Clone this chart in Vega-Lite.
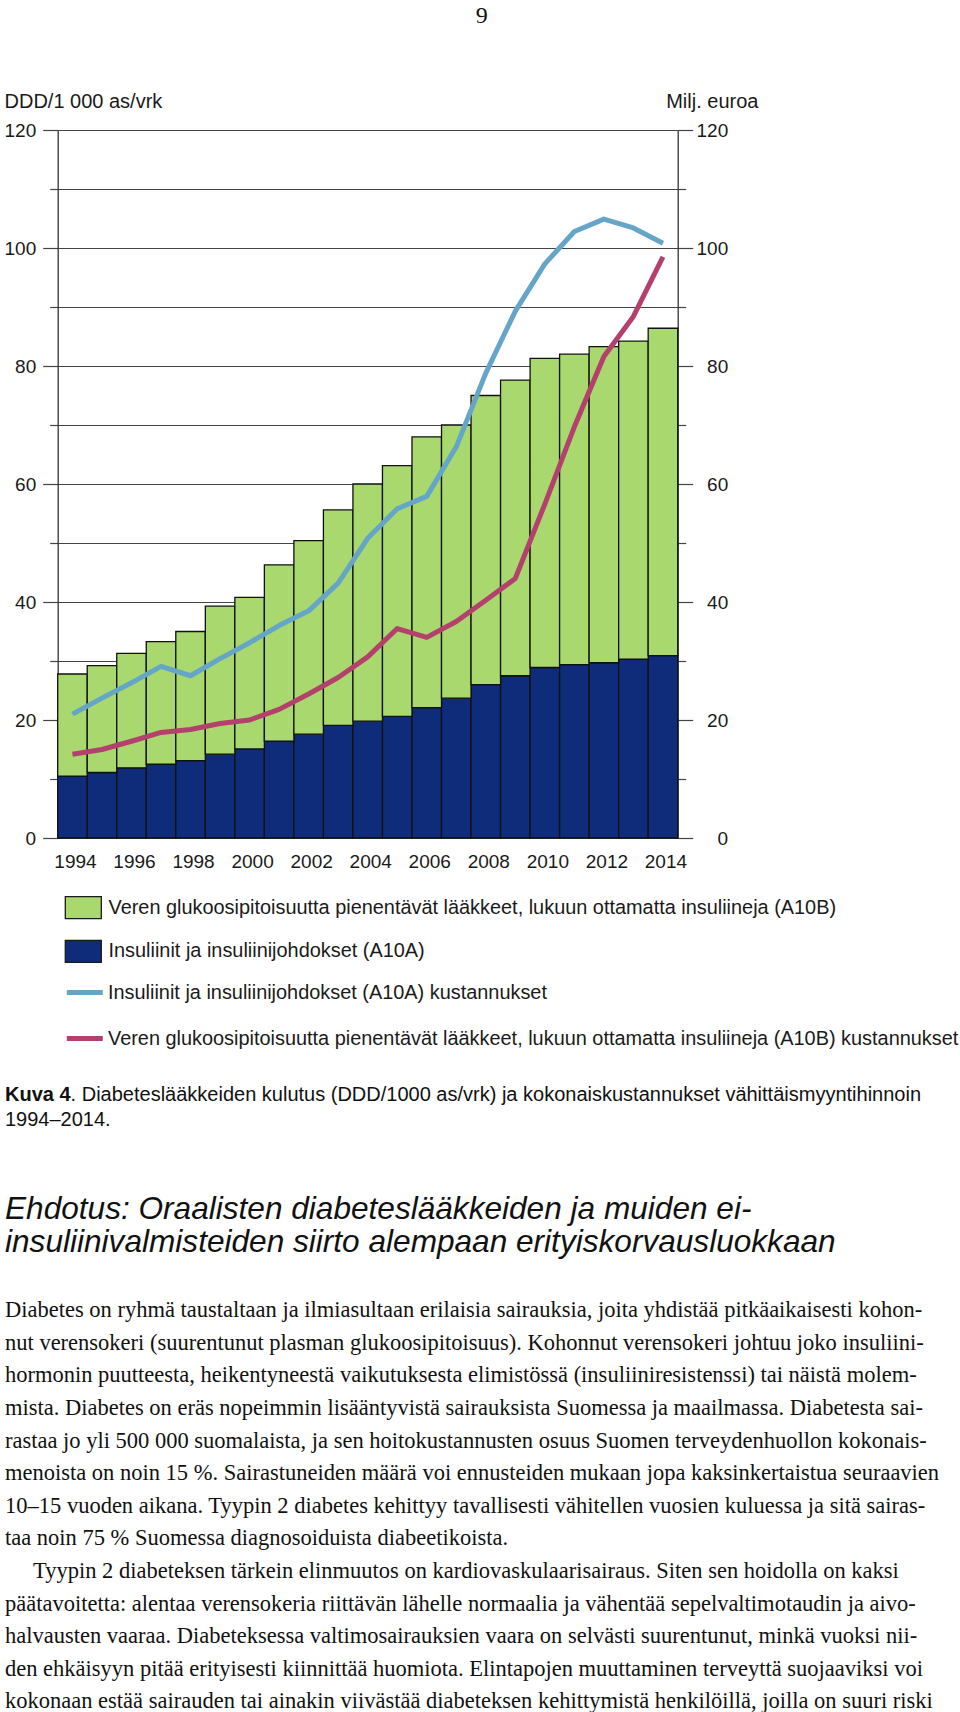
{
  "$schema": "https://vega.github.io/schema/vega-lite/v6.json",
  "autosize": "none",
  "width": 620,
  "height": 708,
  "padding": {"left": 57.7, "top": 130, "right": 282.3, "bottom": 874},
  "background": "white",
  "config": {"view": {"stroke": null}, "font": "Liberation Sans"},
  "datasets": {
    "sarjat": [
      {"sarja": "A10B", "nimi": "Veren glukoosipitoisuutta pienentävät lääkkeet, lukuun ottamatta insuliineja (A10B)"},
      {"sarja": "A10A", "nimi": "Insuliinit ja insuliinijohdokset (A10A)"},
      {"sarja": "A10A_kust", "nimi": "Insuliinit ja insuliinijohdokset (A10A) kustannukset"},
      {"sarja": "A10B_kust", "nimi": "Veren glukoosipitoisuutta pienentävät lääkkeet, lukuun ottamatta insuliineja (A10B) kustannukset"}
    ],
    "kulutus": [
      {"vuosi": 1994, "sarja": "A10A", "arvo": 10.5}, {"vuosi": 1995, "sarja": "A10A", "arvo": 11.1}, {"vuosi": 1996, "sarja": "A10A", "arvo": 11.9},
      {"vuosi": 1997, "sarja": "A10A", "arvo": 12.5}, {"vuosi": 1998, "sarja": "A10A", "arvo": 13.1}, {"vuosi": 1999, "sarja": "A10A", "arvo": 14.2},
      {"vuosi": 2000, "sarja": "A10A", "arvo": 15.1}, {"vuosi": 2001, "sarja": "A10A", "arvo": 16.4}, {"vuosi": 2002, "sarja": "A10A", "arvo": 17.6},
      {"vuosi": 2003, "sarja": "A10A", "arvo": 19.1}, {"vuosi": 2004, "sarja": "A10A", "arvo": 19.8}, {"vuosi": 2005, "sarja": "A10A", "arvo": 20.6},
      {"vuosi": 2006, "sarja": "A10A", "arvo": 22.1}, {"vuosi": 2007, "sarja": "A10A", "arvo": 23.7}, {"vuosi": 2008, "sarja": "A10A", "arvo": 26.0},
      {"vuosi": 2009, "sarja": "A10A", "arvo": 27.5}, {"vuosi": 2010, "sarja": "A10A", "arvo": 28.9}, {"vuosi": 2011, "sarja": "A10A", "arvo": 29.4},
      {"vuosi": 2012, "sarja": "A10A", "arvo": 29.7}, {"vuosi": 2013, "sarja": "A10A", "arvo": 30.3}, {"vuosi": 2014, "sarja": "A10A", "arvo": 30.9},
      {"vuosi": 1994, "sarja": "A10B", "arvo": 17.3}, {"vuosi": 1995, "sarja": "A10B", "arvo": 18.1}, {"vuosi": 1996, "sarja": "A10B", "arvo": 19.4},
      {"vuosi": 1997, "sarja": "A10B", "arvo": 20.8}, {"vuosi": 1998, "sarja": "A10B", "arvo": 21.9}, {"vuosi": 1999, "sarja": "A10B", "arvo": 25.1},
      {"vuosi": 2000, "sarja": "A10B", "arvo": 25.7}, {"vuosi": 2001, "sarja": "A10B", "arvo": 29.9}, {"vuosi": 2002, "sarja": "A10B", "arvo": 32.8},
      {"vuosi": 2003, "sarja": "A10B", "arvo": 36.5}, {"vuosi": 2004, "sarja": "A10B", "arvo": 40.2}, {"vuosi": 2005, "sarja": "A10B", "arvo": 42.5},
      {"vuosi": 2006, "sarja": "A10B", "arvo": 45.9}, {"vuosi": 2007, "sarja": "A10B", "arvo": 46.3}, {"vuosi": 2008, "sarja": "A10B", "arvo": 49.0},
      {"vuosi": 2009, "sarja": "A10B", "arvo": 50.1}, {"vuosi": 2010, "sarja": "A10B", "arvo": 52.4}, {"vuosi": 2011, "sarja": "A10B", "arvo": 52.6},
      {"vuosi": 2012, "sarja": "A10B", "arvo": 53.6}, {"vuosi": 2013, "sarja": "A10B", "arvo": 53.9}, {"vuosi": 2014, "sarja": "A10B", "arvo": 55.5},
      {"vuosi": 1994, "sarja": "A10A_kust", "arvo": 21.0}, {"vuosi": 1995, "sarja": "A10A_kust", "arvo": 23.7}, {"vuosi": 1996, "sarja": "A10A_kust", "arvo": 26.3},
      {"vuosi": 1997, "sarja": "A10A_kust", "arvo": 29.1}, {"vuosi": 1998, "sarja": "A10A_kust", "arvo": 27.5}, {"vuosi": 1999, "sarja": "A10A_kust", "arvo": 30.4},
      {"vuosi": 2000, "sarja": "A10A_kust", "arvo": 33.1}, {"vuosi": 2001, "sarja": "A10A_kust", "arvo": 36.0}, {"vuosi": 2002, "sarja": "A10A_kust", "arvo": 38.5},
      {"vuosi": 2003, "sarja": "A10A_kust", "arvo": 43.2}, {"vuosi": 2004, "sarja": "A10A_kust", "arvo": 50.8}, {"vuosi": 2005, "sarja": "A10A_kust", "arvo": 55.8},
      {"vuosi": 2006, "sarja": "A10A_kust", "arvo": 57.9}, {"vuosi": 2007, "sarja": "A10A_kust", "arvo": 66.3}, {"vuosi": 2008, "sarja": "A10A_kust", "arvo": 78.8},
      {"vuosi": 2009, "sarja": "A10A_kust", "arvo": 89.3}, {"vuosi": 2010, "sarja": "A10A_kust", "arvo": 97.3}, {"vuosi": 2011, "sarja": "A10A_kust", "arvo": 102.8},
      {"vuosi": 2012, "sarja": "A10A_kust", "arvo": 104.9}, {"vuosi": 2013, "sarja": "A10A_kust", "arvo": 103.4}, {"vuosi": 2014, "sarja": "A10A_kust", "arvo": 100.8},
      {"vuosi": 1994, "sarja": "A10B_kust", "arvo": 14.2}, {"vuosi": 1995, "sarja": "A10B_kust", "arvo": 15.0}, {"vuosi": 1996, "sarja": "A10B_kust", "arvo": 16.4},
      {"vuosi": 1997, "sarja": "A10B_kust", "arvo": 17.9}, {"vuosi": 1998, "sarja": "A10B_kust", "arvo": 18.4}, {"vuosi": 1999, "sarja": "A10B_kust", "arvo": 19.4},
      {"vuosi": 2000, "sarja": "A10B_kust", "arvo": 20.0}, {"vuosi": 2001, "sarja": "A10B_kust", "arvo": 21.8}, {"vuosi": 2002, "sarja": "A10B_kust", "arvo": 24.4},
      {"vuosi": 2003, "sarja": "A10B_kust", "arvo": 27.2}, {"vuosi": 2004, "sarja": "A10B_kust", "arvo": 30.7}, {"vuosi": 2005, "sarja": "A10B_kust", "arvo": 35.5},
      {"vuosi": 2006, "sarja": "A10B_kust", "arvo": 34.0}, {"vuosi": 2007, "sarja": "A10B_kust", "arvo": 36.7}, {"vuosi": 2008, "sarja": "A10B_kust", "arvo": 40.3},
      {"vuosi": 2009, "sarja": "A10B_kust", "arvo": 44.0}, {"vuosi": 2010, "sarja": "A10B_kust", "arvo": 56.6}, {"vuosi": 2011, "sarja": "A10B_kust", "arvo": 69.7},
      {"vuosi": 2012, "sarja": "A10B_kust", "arvo": 81.6}, {"vuosi": 2013, "sarja": "A10B_kust", "arvo": 88.4}, {"vuosi": 2014, "sarja": "A10B_kust", "arvo": 98.5}
    ],
    "tekstit": [
      {"osa": "sivu", "teksti": "9"},
      {"osa": "kuva", "teksti": "Kuva 4"},
      {"osa": "kuvateksti1", "teksti": ". Diabeteslääkkeiden kulutus (DDD/1000 as/vrk) ja kokonaiskustannukset vähittäismyyntihinnoin"},
      {"osa": "kuvateksti2", "teksti": "1994–2014."},
      {"osa": "otsikko", "teksti": ["Ehdotus: Oraalisten diabeteslääkkeiden ja muiden ei-", "insuliinivalmisteiden siirto alempaan erityiskorvausluokkaan"]},
      {"osa": "kappale1", "teksti": [
        "Diabetes on ryhmä taustaltaan ja ilmiasultaan erilaisia sairauksia, joita yhdistää pitkäaikaisesti kohon-",
        "nut verensokeri (suurentunut plasman glukoosipitoisuus). Kohonnut verensokeri johtuu joko insuliini-",
        "hormonin puutteesta, heikentyneestä vaikutuksesta elimistössä (insuliiniresistenssi) tai näistä molem-",
        "mista. Diabetes on eräs nopeimmin lisääntyvistä sairauksista Suomessa ja maailmassa. Diabetesta sai-",
        "rastaa jo yli 500 000 suomalaista, ja sen hoitokustannusten osuus Suomen terveydenhuollon kokonais-",
        "menoista on noin 15 %. Sairastuneiden määrä voi ennusteiden mukaan jopa kaksinkertaistua seuraavien",
        "10–15 vuoden aikana. Tyypin 2 diabetes kehittyy tavallisesti vähitellen vuosien kuluessa ja sitä sairas-",
        "taa noin 75 % Suomessa diagnosoiduista diabeetikoista."
      ]},
      {"osa": "kappale2a", "teksti": "Tyypin 2 diabeteksen tärkein elinmuutos on kardiovaskulaarisairaus. Siten sen hoidolla on kaksi"},
      {"osa": "kappale2b", "teksti": [
        "päätavoitetta: alentaa verensokeria riittävän lähelle normaalia ja vähentää sepelvaltimotaudin ja aivo-",
        "halvausten vaaraa. Diabeteksessa valtimosairauksien vaara on selvästi suurentunut, minkä vuoksi nii-",
        "den ehkäisyyn pitää erityisesti kiinnittää huomiota. Elintapojen muuttaminen terveyttä suojaaviksi voi",
        "kokonaan estää sairauden tai ainakin viivästää diabeteksen kehittymistä henkilöillä, joilla on suuri riski"
      ]}
    ]
  },
  "layer": [
    {
      "data": {"name": "kulutus"},
      "transform": [
        {"filter": "datum.sarja == 'A10A' || datum.sarja == 'A10B'"},
        {"lookup": "sarja", "from": {"data": {"name": "sarjat"}, "key": "sarja", "fields": ["nimi"]}}
      ],
      "mark": {"type": "bar", "stroke": "#111111", "strokeWidth": 1.3},
      "encoding": {
        "x": {
          "field": "vuosi", "type": "ordinal",
          "scale": {"paddingInner": 0, "paddingOuter": 0},
          "axis": {
            "orient": "bottom", "title": null, "values": [1994, 1996, 1998, 2000, 2002, 2004, 2006, 2008, 2010, 2012, 2014],
            "domain": false, "ticks": false, "grid": false, "labelAngle": 0,
            "labelFont": "Liberation Sans", "labelFontSize": 19, "labelColor": "#1a1a1a", "labelPadding": 14, "labelOffset": 3
          }
        },
        "y": {
          "field": "arvo", "type": "quantitative", "stack": "zero",
          "scale": {"domain": [0, 120], "nice": false},
          "axis": {
            "orient": "left", "values": [0, 10, 20, 30, 40, 50, 60, 70, 80, 90, 100, 110, 120],
            "labelExpr": "datum.value % 20 == 0 ? datum.label : ''",
            "grid": true, "gridColor": "#444444", "gridWidth": 1.2,
            "domain": true, "domainColor": "#333333", "domainWidth": 1.3,
            "ticks": true, "tickColor": "#444444", "tickWidth": 1.2,
            "tickSize": {"condition": {"test": "datum.value % 20 != 0", "value": 8}, "value": 15},
            "labelFont": "Liberation Sans", "labelFontSize": 19, "labelColor": "#1a1a1a", "labelPadding": 7,
            "title": "DDD/1 000 as/vrk", "titleAngle": 0, "titleAlign": "left", "titleBaseline": "middle",
            "titleX": -53.7, "titleY": -28.3, "titleFont": "Liberation Sans", "titleFontSize": 20, "titleFontWeight": "normal", "titleColor": "#1a1a1a",
            "zindex": 0
          }
        },
        "fill": {
          "field": "nimi", "type": "nominal",
          "scale": {
            "domain": [
              "Veren glukoosipitoisuutta pienentävät lääkkeet, lukuun ottamatta insuliineja (A10B)",
              "Insuliinit ja insuliinijohdokset (A10A)"
            ],
            "range": ["#A8D86E", "#0E2C7A"]
          },
          "legend": {
            "orient": "none", "legendX": 6.6, "legendY": 758.6, "direction": "vertical",
            "title": null, "padding": 0, "symbolSize": 1296, "symbolType": "M-1,-0.61H1V0.61H-1Z",
            "symbolStrokeColor": "#1a1a1a", "symbolStrokeWidth": 1.3,
            "labelFont": "Liberation Sans", "labelFontSize": 19.9, "labelColor": "#1a1a1a", "labelLimit": 0, "labelOffset": 6.2, "rowPadding": 10.7,
            "encode": {"symbols": {"update": {"stroke": {"value": "#1a1a1a"}, "strokeWidth": {"value": 1.3}, "opacity": {"value": 1}, "fillOpacity": {"value": 1}}}}
          }
        },
        "order": {"field": "sarja", "sort": "ascending"}
      }
    },
    {
      "data": {"name": "kulutus"},
      "transform": [
        {"filter": "datum.sarja == 'A10A_kust' || datum.sarja == 'A10B_kust'"},
        {"lookup": "sarja", "from": {"data": {"name": "sarjat"}, "key": "sarja", "fields": ["nimi"]}}
      ],
      "mark": {"type": "line", "strokeWidth": 5, "strokeJoin": "round"},
      "encoding": {
        "x": {"field": "vuosi", "type": "ordinal"},
        "y": {
          "field": "arvo", "type": "quantitative",
          "scale": {"domain": [0, 120], "nice": false},
          "axis": {
            "orient": "right", "values": [0, 10, 20, 30, 40, 50, 60, 70, 80, 90, 100, 110, 120],
            "labelExpr": "datum.value % 20 == 0 ? datum.label : ''",
            "grid": false,
            "domain": true, "domainColor": "#333333", "domainWidth": 1.3,
            "ticks": true, "tickColor": "#444444", "tickWidth": 1.2,
            "tickSize": {"condition": {"test": "datum.value % 20 != 0", "value": 8}, "value": 15},
            "labelFont": "Liberation Sans", "labelFontSize": 19, "labelColor": "#1a1a1a", "labelPadding": 35, "labelAlign": "right",
            "title": "Milj. euroa", "titleAngle": 0, "titleAlign": "left", "titleBaseline": "middle",
            "titleX": -12, "titleY": -28.3, "titleFont": "Liberation Sans", "titleFontSize": 20, "titleFontWeight": "normal", "titleColor": "#1a1a1a"
          }
        },
        "stroke": {
          "field": "nimi", "type": "nominal",
          "scale": {
            "domain": [
              "Insuliinit ja insuliinijohdokset (A10A) kustannukset",
              "Veren glukoosipitoisuutta pienentävät lääkkeet, lukuun ottamatta insuliineja (A10B) kustannukset"
            ],
            "range": ["#64A5C8", "#B4406E"]
          },
          "legend": {
            "orient": "none", "legendX": 6.6, "legendY": 842, "direction": "vertical",
            "title": null, "padding": 0, "symbolSize": 1296, "symbolType": "stroke", "symbolStrokeWidth": 5,
            "labelFont": "Liberation Sans", "labelFontSize": 19.9, "labelColor": "#1a1a1a", "labelLimit": 0, "labelOffset": 2.7, "rowPadding": 15
          }
        }
      }
    },
    {
      "data": {"name": "tekstit"},
      "transform": [{"filter": "datum.osa == 'sivu'"}],
      "mark": {"type": "text", "font": "Liberation Serif", "fontSize": 24, "align": "center", "baseline": "alphabetic", "color": "#111111"},
      "encoding": {"text": {"field": "teksti"}, "x": {"value": 424}, "y": {"value": -106.7}}
    },
    {
      "data": {"name": "tekstit"},
      "transform": [{"filter": "datum.osa == 'kuva'"}],
      "mark": {"type": "text", "font": "Liberation Sans", "fontSize": 20, "fontWeight": "bold", "align": "left", "baseline": "alphabetic", "color": "#111111"},
      "encoding": {"text": {"field": "teksti"}, "x": {"value": -52.7}, "y": {"value": 970.7}}
    },
    {
      "data": {"name": "tekstit"},
      "transform": [{"filter": "datum.osa == 'kuvateksti1'"}],
      "mark": {"type": "text", "font": "Liberation Sans", "fontSize": 20, "align": "left", "baseline": "alphabetic", "color": "#111111"},
      "encoding": {"text": {"field": "teksti"}, "x": {"value": 12.9}, "y": {"value": 970.7}}
    },
    {
      "data": {"name": "tekstit"},
      "transform": [{"filter": "datum.osa == 'kuvateksti2'"}],
      "mark": {"type": "text", "font": "Liberation Sans", "fontSize": 20, "align": "left", "baseline": "alphabetic", "color": "#111111"},
      "encoding": {"text": {"field": "teksti"}, "x": {"value": -52.7}, "y": {"value": 995.7}}
    },
    {
      "data": {"name": "tekstit"},
      "transform": [{"filter": "datum.osa == 'otsikko'"}],
      "mark": {"type": "text", "font": "Liberation Sans", "fontSize": 31.6, "fontStyle": "italic", "align": "left", "baseline": "alphabetic", "lineHeight": 32.5, "color": "#111111"},
      "encoding": {"text": {"field": "teksti"}, "x": {"value": -52.7}, "y": {"value": 1089}}
    },
    {
      "data": {"name": "tekstit"},
      "transform": [{"filter": "datum.osa == 'kappale1'"}],
      "mark": {"type": "text", "font": "Liberation Serif", "fontSize": 22.5, "align": "left", "baseline": "alphabetic", "lineHeight": 32.6, "color": "#111111"},
      "encoding": {"text": {"field": "teksti"}, "x": {"value": -52.7}, "y": {"value": 1187.3}}
    },
    {
      "data": {"name": "tekstit"},
      "transform": [{"filter": "datum.osa == 'kappale2a'"}],
      "mark": {"type": "text", "font": "Liberation Serif", "fontSize": 22.5, "align": "left", "baseline": "alphabetic", "color": "#111111"},
      "encoding": {"text": {"field": "teksti"}, "x": {"value": -24.7}, "y": {"value": 1448.1}}
    },
    {
      "data": {"name": "tekstit"},
      "transform": [{"filter": "datum.osa == 'kappale2b'"}],
      "mark": {"type": "text", "font": "Liberation Serif", "fontSize": 22.5, "align": "left", "baseline": "alphabetic", "lineHeight": 32.6, "color": "#111111"},
      "encoding": {"text": {"field": "teksti"}, "x": {"value": -52.7}, "y": {"value": 1480.7}}
    }
  ],
  "resolve": {"scale": {"y": "independent"}}
}
